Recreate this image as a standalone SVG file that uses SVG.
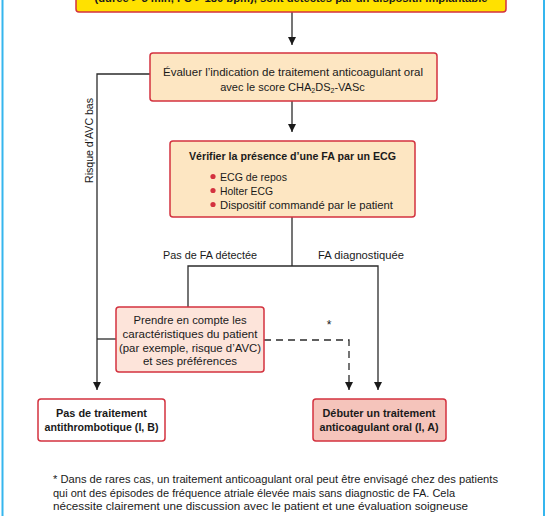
<svg xmlns="http://www.w3.org/2000/svg" width="549" height="516" viewBox="0 0 549 516">
<style>
text{font-family:"Liberation Sans",Arial,sans-serif;font-size:11px;fill:#1a1a1a}
.b{font-weight:bold}
.box{stroke:#d3323f;stroke-width:1.5}
.ln{stroke:#2b2b2b;stroke-width:1.3;fill:none}
.dash{stroke:#2b2b2b;stroke-width:1.3;fill:none;stroke-dasharray:7 5}
.mid{text-anchor:middle}
</style>
<defs>
<marker id="ah" viewBox="0 0 10 10" refX="10" refY="5" markerWidth="8" markerHeight="8" markerUnits="userSpaceOnUse" orient="auto">
<path d="M0,0 L10,5 L0,10 z" fill="#1a1a1a"/>
</marker>
</defs>
<rect width="549" height="516" fill="#ffffff"/>
<line x1="2.5" y1="0" x2="2.5" y2="516" stroke="#35b6ee" stroke-width="2"/>
<line x1="544" y1="0" x2="544" y2="516" stroke="#35b6ee" stroke-width="2"/>

<g id="connectors">
<line class="ln" x1="292" y1="12" x2="292" y2="45" marker-end="url(#ah)"/>
<line class="ln" x1="292" y1="101" x2="292" y2="132" marker-end="url(#ah)"/>
<polyline class="ln" points="150,74 97,74 97,390" marker-end="url(#ah)"/>
<line class="ln" x1="116" y1="339" x2="97" y2="339"/>
<line class="ln" x1="292" y1="217" x2="292" y2="266"/>
<polyline class="ln" points="188,307 188,266 378,266 378,390" marker-end="url(#ah)"/>
<polyline class="dash" points="264,340 349,340 349,390" marker-end="url(#ah)"/>
<text x="89" y="0" class="mid" transform="translate(93,140.5) rotate(-90)" textLength="85" lengthAdjust="spacingAndGlyphs" dx="-89">Risque d’AVC bas</text>
<text x="210" y="259" class="mid" textLength="94" lengthAdjust="spacingAndGlyphs">Pas de FA détectée</text>
<text x="361" y="259" class="mid" textLength="86" lengthAdjust="spacingAndGlyphs">FA diagnostiquée</text>
<text x="329" y="329" class="mid" style="font-size:12px">*</text>
</g>

<g id="n0">
<rect class="box" x="76" y="-20" width="430" height="32" rx="3" fill="#ffe100"/>
<text x="291" y="2" class="mid b" textLength="393" lengthAdjust="spacingAndGlyphs">(durée &gt; 5 min, FC &gt; 180 bpm), sont détectés par un dispositif implantable</text>
</g>

<g id="n1">
<rect class="box" x="150" y="53" width="287" height="48" rx="3" fill="#fde6c2"/>
<text x="293" y="76" class="mid" textLength="260" lengthAdjust="spacingAndGlyphs">Évaluer l’indication de traitement anticoagulant oral</text>
<text x="292.5" y="91" class="mid">avec le score CHA<tspan font-size="7" dy="2">2</tspan><tspan dy="-2">DS</tspan><tspan font-size="7" dy="2">2</tspan><tspan dy="-2">-VASc</tspan></text>
</g>

<g id="n2">
<rect class="box" x="170" y="141" width="245" height="76" rx="3" fill="#fde6c2"/>
<text x="292.5" y="160" class="mid b" textLength="207" lengthAdjust="spacingAndGlyphs">Vérifier la présence d’une FA par un ECG</text>
<circle cx="213" cy="176.5" r="2.6" fill="#d3323f"/>
<circle cx="213" cy="190.5" r="2.6" fill="#d3323f"/>
<circle cx="213" cy="204.5" r="2.6" fill="#d3323f"/>
<text x="220" y="180.5" textLength="67" lengthAdjust="spacingAndGlyphs">ECG de repos</text>
<text x="220" y="194.5" textLength="53" lengthAdjust="spacingAndGlyphs">Holter ECG</text>
<text x="220" y="208.5" textLength="173" lengthAdjust="spacingAndGlyphs">Dispositif commandé par le patient</text>
</g>

<g id="n3">
<rect class="box" x="116" y="307" width="148" height="65" rx="3" fill="#fde4da"/>
<text x="190" y="324" class="mid" textLength="113" lengthAdjust="spacingAndGlyphs">Prendre en compte les</text>
<text x="190" y="338" class="mid" textLength="135" lengthAdjust="spacingAndGlyphs">caractéristiques du patient</text>
<text x="190" y="351.5" class="mid" textLength="142" lengthAdjust="spacingAndGlyphs">(par exemple, risque d’AVC)</text>
<text x="190" y="365" class="mid" textLength="94" lengthAdjust="spacingAndGlyphs">et ses préférences</text>
</g>

<g id="n4">
<rect class="box" x="38" y="399" width="127" height="42" rx="3" fill="#ffffff"/>
<text x="101.5" y="417" class="mid b" textLength="91" lengthAdjust="spacingAndGlyphs">Pas de traitement</text>
<text x="101.5" y="431" class="mid b" textLength="114" lengthAdjust="spacingAndGlyphs">antithrombotique (I, B)</text>
</g>

<g id="n5">
<rect class="box" x="313" y="399" width="133" height="42" rx="3" fill="#f5c4bb"/>
<text x="379" y="417" class="mid b" textLength="113" lengthAdjust="spacingAndGlyphs">Débuter un traitement</text>
<text x="379" y="431" class="mid b" textLength="119" lengthAdjust="spacingAndGlyphs">anticoagulant oral (I, A)</text>
</g>

<g id="footnote">
<text x="53" y="483" textLength="445" lengthAdjust="spacingAndGlyphs">* Dans de rares cas, un traitement anticoagulant oral peut être envisagé chez des patients</text>
<text x="53" y="496.5" textLength="402" lengthAdjust="spacingAndGlyphs">qui ont des épisodes de fréquence atriale élevée mais sans diagnostic de FA. Cela</text>
<text x="53" y="510" textLength="415" lengthAdjust="spacingAndGlyphs">nécessite clairement une discussion avec le patient et une évaluation soigneuse</text>
</g>
</svg>
